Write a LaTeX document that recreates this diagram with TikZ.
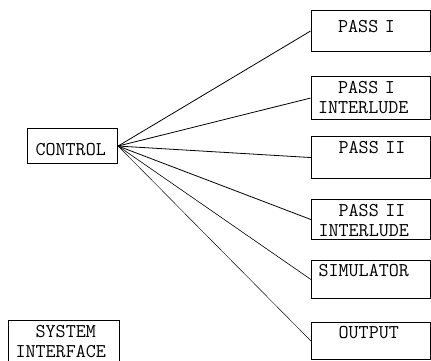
\documentclass[tikz,border=0pt]{standalone}
\usepackage{fontspec}
\tikzset{
  box/.style={draw, line width=1.1pt, anchor=north west, inner ysep=0pt, inner xsep=7pt,
    align=left, font=\ttfamily\fontsize{19.5}{20}\selectfont},
  passbox/.style={box, text width=105pt},
  link/.style={line width=0.8pt}
}
\begin{document}
\begin{tikzpicture}[x=1pt,y=-1pt]
  \useasboundingbox (0,0) rectangle (431,361);
  \node[box, text width=74pt, inner xsep=8pt, text height=27pt, text depth=8pt] (control) at (27,128) {CONTROL};
  \node[passbox, text height=22pt, text depth=19pt] (pass1) at (310.5,10) {\hphantom{XX}PASS I};
  \node[passbox, text height=17pt, text depth=26pt] (inter1) at (310.5,76) {\hphantom{XX}PASS I\\INTERLUDE};
  \node[passbox, text height=17pt, text depth=25pt] (pass2) at (311,136) {\hphantom{XX}PASS II};
  \node[passbox, text height=17pt, text depth=23pt] (inter2) at (311,199) {\hphantom{XX}PASS II\\INTERLUDE};
  \node[passbox, text height=16pt, text depth=22pt] (sim) at (311,260) {SIMULATOR};
  \node[passbox, text height=16pt, text depth=21pt] (output) at (311,322) {\hphantom{XX}OUTPUT};
  \node[box, text width=97pt, text height=17pt, text depth=28pt] (sysif) at (8,320) {\hphantom{XX}SYSTEM\\INTERFACE};
  \draw[link] (control.east) -- (pass1.west);
  \draw[link] (control.east) -- (inter1.west);
  \draw[link] (control.east) -- (pass2.west);
  \draw[link] (control.east) -- (inter2.west);
  \draw[link, line width=0.6pt] (control.east) -- (sim.west);
  \draw[link, line width=0.45pt] (control.east) -- (output.west);
\end{tikzpicture}
\end{document}
